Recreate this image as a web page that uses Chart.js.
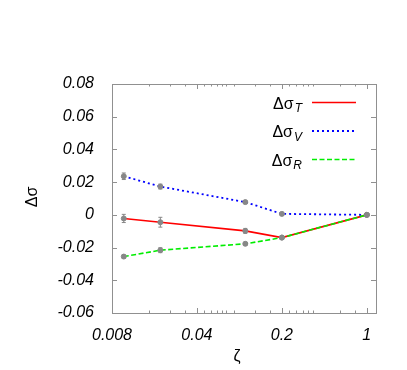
<!DOCTYPE html>
<html>
<head>
<meta charset="utf-8">
<script src="https://cdn.jsdelivr.net/npm/chart.js@4/dist/chart.umd.min.js"></script>
<style>
  html, body { margin: 0; padding: 0; background: #fff; }
  #wrap { width: 407px; height: 370px; }
</style>
</head>
<body>
<div id="wrap"><canvas id="sigmaChart" width="407" height="370"></canvas></div>
<script>
// data
const zeta = [0.01, 0.02, 0.1, 0.2, 1];
const sigmaT = [-0.0022, -0.0045, -0.0098, -0.0139, 0];
const sigmaV = [0.0236, 0.0173, 0.0078, 0.0006, 0];
const sigmaR = [-0.0255, -0.0216, -0.0177, -0.0139, 0];
const errT = [0.0025, 0.003, 0.0015, 0.001, 0.0005];
const errV = [0.002, 0.0015, 0.001, 0.001, 0.0005];
const errR = [0.001, 0.0015, 0.001, 0.001, 0.0005];

// ticks
const xTickValues = [0.008, 0.04, 0.2, 1];
const xTickLabels = ['0.008', '0.04', '0.2', '1'];
const xMinorTicks = [0.016, 0.024, 0.032, 0.046, 0.052, 0.058, 0.064, 0.07, 0.08, 0.12, 0.16,
                     0.23, 0.26, 0.3, 0.33, 0.36, 0.6, 0.8];
const yTickValues = [-0.06, -0.04, -0.02, 0, 0.02, 0.04, 0.06, 0.08];
const yTickLabels = ['-0.06', '-0.04', '-0.02', '0', '0.02', '0.04', '0.06', '0.08'];

const FONT = '"Liberation Sans", Arial, sans-serif';
const FRAME = '#909090';
const POINT = '#888888';

function toPoints(ys) {
    return ys.map(function (y, i) { return { x: zeta[i], y: y }; });
}

// frame, inward ticks, error bars, legend, axis titles
const gnuplotLook = {
    id: 'gnuplotLook',
    beforeDatasetsDraw: function (chart) {
        const ctx = chart.ctx;
        const a = chart.chartArea;
        const xs = chart.scales.x, ys = chart.scales.y;
        ctx.save();
        ctx.strokeStyle = FRAME;
        ctx.lineWidth = 1;
        ctx.beginPath();
        xTickValues.forEach(function (v) {
            const px = Math.round(xs.getPixelForValue(v)) + 0.5;
            ctx.moveTo(px, a.bottom); ctx.lineTo(px, a.bottom - 5);
            ctx.moveTo(px, a.top); ctx.lineTo(px, a.top + 5);
        });
        xMinorTicks.forEach(function (v) {
            const px = Math.round(xs.getPixelForValue(v)) + 0.5;
            ctx.moveTo(px, a.bottom); ctx.lineTo(px, a.bottom - 2.5);
            ctx.moveTo(px, a.top); ctx.lineTo(px, a.top + 2.5);
        });
        yTickValues.forEach(function (v) {
            const py = Math.round(ys.getPixelForValue(v)) + 0.5;
            ctx.moveTo(a.left, py); ctx.lineTo(a.left + 5, py);
            ctx.moveTo(a.right, py); ctx.lineTo(a.right - 5, py);
        });
        ctx.stroke();
        ctx.strokeRect(Math.round(a.left) + 0.5, Math.round(a.top) + 0.5,
                       Math.round(a.right - a.left), Math.round(a.bottom - a.top));
        ctx.restore();
    },
    afterDatasetsDraw: function (chart) {
        const ctx = chart.ctx;
        const xs = chart.scales.x, ys = chart.scales.y;
        ctx.save();
        // error bars
        ctx.strokeStyle = POINT;
        ctx.lineWidth = 1;
        chart.data.datasets.forEach(function (ds) {
            ds.data.forEach(function (p, i) {
                const px = xs.getPixelForValue(p.x);
                const y1 = ys.getPixelForValue(p.y - ds.err[i]);
                const y2 = ys.getPixelForValue(p.y + ds.err[i]);
                ctx.beginPath();
                ctx.moveTo(px, y1); ctx.lineTo(px, y2);
                ctx.moveTo(px - 2, y1); ctx.lineTo(px + 2, y1);
                ctx.moveTo(px - 2, y2); ctx.lineTo(px + 2, y2);
                ctx.stroke();
            });
        });

        // legend with subscripts
        const rowY = [102.5, 131, 159.5];
        const textRight = 302;
        chart.data.datasets.forEach(function (ds, i) {
            const y = rowY[i];
            ctx.font = 'italic 12px ' + FONT;
            const subW = ctx.measureText(ds.sub).width;
            ctx.font = '16px ' + FONT;
            const mainW = ctx.measureText('Δσ').width;
            ctx.fillStyle = '#000';
            ctx.textBaseline = 'alphabetic';
            ctx.textAlign = 'left';
            ctx.fillText('Δσ', textRight - subW - mainW - 1, y + 6);
            ctx.font = 'italic 12px ' + FONT;
            ctx.fillText(ds.sub, textRight - subW, y + 9.5);

            ctx.strokeStyle = ds.borderColor;
            ctx.lineWidth = ds.borderWidth;
            ctx.setLineDash(ds.borderDash || []);
            ctx.beginPath();
            ctx.moveTo(312, y); ctx.lineTo(356, y);
            ctx.stroke();
            ctx.setLineDash([]);
        });

        // axis titles
        ctx.fillStyle = '#000';
        ctx.font = '16px ' + FONT;
        ctx.textAlign = 'center';
        ctx.textBaseline = 'middle';
        ctx.fillText('ζ', 237, 357);
        ctx.translate(33, 197);
        ctx.rotate(-Math.PI / 2);
        ctx.fillText('Δσ', 0, 0);
        ctx.restore();
    }
};

const pointStyle = {
    pointRadius: 2.5,
    pointBackgroundColor: POINT,
    pointBorderColor: POINT,
    pointBorderWidth: 1
};

const ctx = document.getElementById('sigmaChart').getContext('2d');
new Chart(ctx, {
    type: 'line',
    data: {
        datasets: [
            Object.assign({
                label: 'ΔσT', sub: 'T', err: errT,
                data: toPoints(sigmaT),
                borderColor: '#ff0000', borderWidth: 1.6,
                order: 3
            }, pointStyle),
            Object.assign({
                label: 'ΔσV', sub: 'V', err: errV,
                data: toPoints(sigmaV),
                borderColor: '#0000ff', borderWidth: 1.8,
                borderDash: [2, 3],
                order: 2
            }, pointStyle),
            Object.assign({
                label: 'ΔσR', sub: 'R', err: errR,
                data: toPoints(sigmaR),
                borderColor: '#00ee00', borderWidth: 1.6,
                borderDash: [5, 2.5],
                order: 1
            }, pointStyle)
        ]
    },
    options: {
        responsive: false,
        animation: false,
        events: [],
        layout: { padding: { top: 84, right: 31, left: 0, bottom: 0 } },
        elements: {
            line: { tension: 0, fill: false }
        },
        plugins: {
            legend: { display: false },
            tooltip: { enabled: false }
        },
        scales: {
            x: {
                type: 'logarithmic',
                min: 0.008,
                max: 1.19,
                grid: { display: false },
                border: { display: false },
                afterBuildTicks: function (scale) {
                    scale.ticks = xTickValues.map(function (v) { return { value: v }; });
                },
                afterFit: function (scale) { scale.height = 57; },
                ticks: {
                    autoSkip: false,
                    maxRotation: 0,
                    padding: 5,
                    color: '#000',
                    font: { family: FONT, size: 16, style: 'italic' },
                    callback: function (value) {
                        const i = xTickValues.indexOf(value);
                        return i >= 0 ? xTickLabels[i] : '';
                    }
                }
            },
            y: {
                min: -0.06,
                max: 0.08,
                grid: { display: false },
                border: { display: false },
                afterBuildTicks: function (scale) {
                    scale.ticks = yTickValues.map(function (v) { return { value: v }; });
                },
                afterFit: function (scale) { scale.width = 112; },
                ticks: {
                    autoSkip: false,
                    padding: 10,
                    color: '#000',
                    font: { family: FONT, size: 16, style: 'italic' },
                    callback: function (value) {
                        const i = yTickValues.findIndex(function (v) { return Math.abs(v - value) < 1e-9; });
                        return i >= 0 ? yTickLabels[i] : '';
                    }
                }
            }
        }
    },
    plugins: [gnuplotLook]
});
</script>
</body>
</html>
